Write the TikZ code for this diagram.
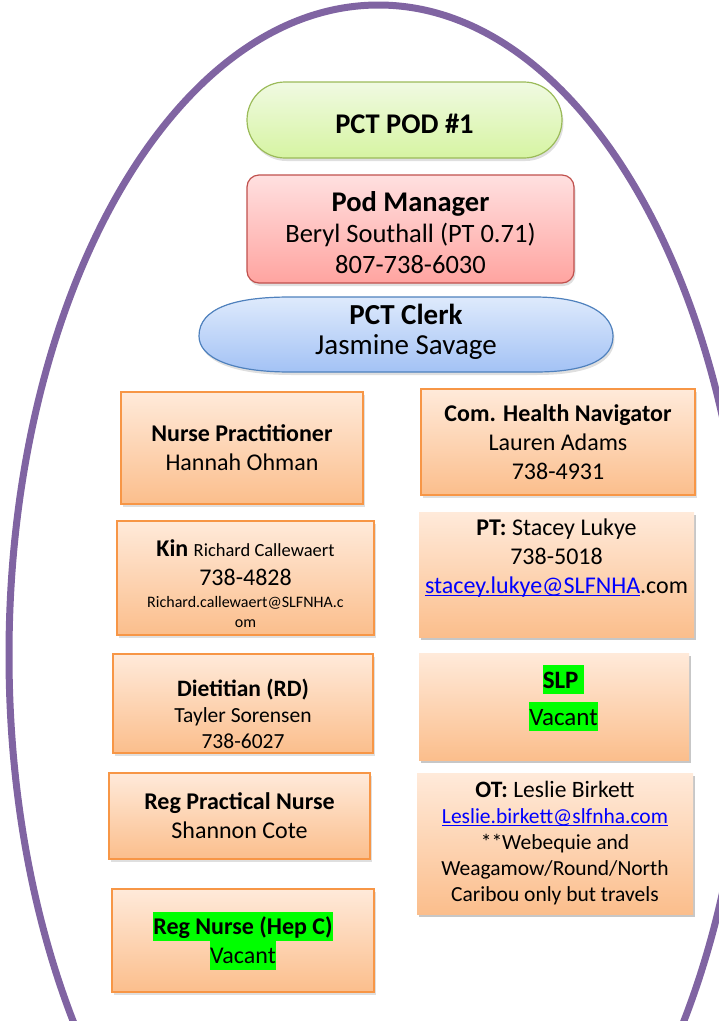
\documentclass[tikz,border=0pt]{standalone}
\usepackage{fontspec}
\setmainfont{Carlito}
\usetikzlibrary{shadows}
\definecolor{podpurple}{RGB}{128,100,162}
\definecolor{greenline}{RGB}{155,187,89}
\definecolor{greentop}{RGB}{240,250,226}
\definecolor{greenbot}{RGB}{214,244,162}
\definecolor{redline}{RGB}{192,80,77}
\definecolor{redtop}{RGB}{255,224,224}
\definecolor{redbot}{RGB}{255,164,160}
\definecolor{blueline}{RGB}{79,129,189}
\definecolor{bluetop}{RGB}{222,234,252}
\definecolor{bluebot}{RGB}{163,194,245}
\definecolor{orline}{RGB}{247,150,70}
\definecolor{ortop}{RGB}{255,234,218}
\definecolor{orbot}{RGB}{251,190,140}
\definecolor{linkblue}{RGB}{0,0,255}
\definecolor{hlgreen}{RGB}{0,255,0}
\newcommand{\hl}[1]{{\setlength{\fboxsep}{0pt}\colorbox{hlgreen}{\rule[-6pt]{0pt}{29pt}#1}}}
\newcommand{\lnk}[1]{{\color{linkblue}\underline{\smash{#1}}}}

\begin{document}
\begin{tikzpicture}[x=1pt, y=-1pt,
		S/.style = {drop shadow={shadow xshift=1.5pt, shadow yshift=-3pt, opacity=0.25}},
		B/.style = {rectangle, S, draw=orline, line width=1.6pt, top color=ortop, bottom color=orbot,
			align=center, inner sep=0pt, font=\fontsize{24}{29}\selectfont},
		P/.style = {B, draw=none},
		T/.style = {align=center, inner sep=0pt, line width=1.2pt, font=\fontsize{28.5}{31}\selectfont}
		]
		\useasboundingbox (0,0) rectangle (719,1021);
		\clip (0,0) rectangle (719,1021);
		\draw[podpurple, line width=7pt] (378.5,655) ellipse [x radius=369.5, y radius=650];
		
		\node[T, S, draw=greenline, rounded corners=38pt, top color=greentop, bottom color=greenbot,
			minimum width=315, minimum height=76] (pod) at (404.5,120) {\rule{0pt}{26.5pt}\textbf{PCT POD \#1}};
		\node[T, S, draw=redline, rounded corners=12pt, top color=redtop, bottom color=redbot,
			minimum width=327, minimum height=108] (mgr) at (410.5,229)
			{\rule{0pt}{27pt}\textbf{Pod Manager}\\ \fontsize{26.5}{31}\selectfont Beryl Southall (PT 0.71)\\ \fontsize{26.5}{31}\selectfont 807-738-6030};
		\draw[S, blueline, line width=1.2pt, top color=bluetop, bottom color=bluebot]
			(199,336) .. controls (199,308) and (235,297) .. (290,297) -- (535,297)
			.. controls (590,297) and (613,316) .. (613,336)
			.. controls (613,358) and (590,372) .. (535,372) -- (290,372)
			.. controls (232,372) and (199,358) .. cycle;
		\node[T, font=\fontsize{29}{30}\selectfont] (clerk) at (406,332) {\textbf{PCT Clerk}\\ Jasmine Savage};
		
		\begin{scope}[nodes=B]
			\node[minimum width=242, minimum height=112] (np) at (242,448) {\textbf{Nurse Practitioner}\\ Hannah Ohman};
			\node[minimum width=257, minimum height=114] (kin) at (245.5,578)
				{\rule{0pt}{28pt}\textbf{Kin} {\fontsize{18.5}{22}\selectfont Richard Callewaert}\\ 738-4828\\[-6.5pt]
				\fontsize{16}{19}\selectfont Richard.callewaert@SLFNHA.c\\[-9.5pt] \fontsize{16}{19}\selectfont om};
			\node[minimum width=260, minimum height=99, font=\fontsize{21.5}{26}\selectfont] (diet) at (243,703.5)
				{\rule{0pt}{39pt}\fontsize{23.5}{26}\selectfont\textbf{Dietitian (RD)}\\ Tayler Sorensen\\ 738-6027};
			\node[minimum width=261, minimum height=86] (rpn) at (239.5,816) {\textbf{Reg Practical Nurse}\\ Shannon Cote};
			\node[minimum width=262, minimum height=103] (rn) at (243,940.5) {\hl{\textbf{Reg Nurse (Hep C)}}\\ \hl{Vacant}};
			
			\node[minimum width=274, minimum height=106] (chn) at (558,442) {\textbf{Com. Health Navigator}\\ Lauren Adams\\ 738-4931};
			\node[P, minimum width=275, minimum height=125] (pt) at (556.5,574.5)
				{\textbf{PT:} Stacey Lukye\\ 738-5018\\ \lnk{stacey.lukye@SLFNHA}.com\rule[-37pt]{0pt}{37pt}};
			\node[P, minimum width=270, minimum height=107, font=\fontsize{25}{29}\selectfont] (slp) at (554,706.5)
				{\hspace*{19pt}\hl{\textbf{SLP\ }}\\[8pt] \hspace*{19pt}\hl{Vacant}\rule[-23pt]{0pt}{23pt}};
			\node[P, minimum width=276, minimum height=141, font=\fontsize{21.5}{26}\selectfont] (ot) at (555,843.5)
				{\fontsize{23.5}{26}\selectfont\textbf{OT:} Leslie Birkett\\ \lnk{Leslie.birkett@slfnha.com}\\ **Webequie and\\
				Weagamow/Round/North\\ Caribou only but travels};
		\end{scope}
	\end{tikzpicture}
\end{document}
